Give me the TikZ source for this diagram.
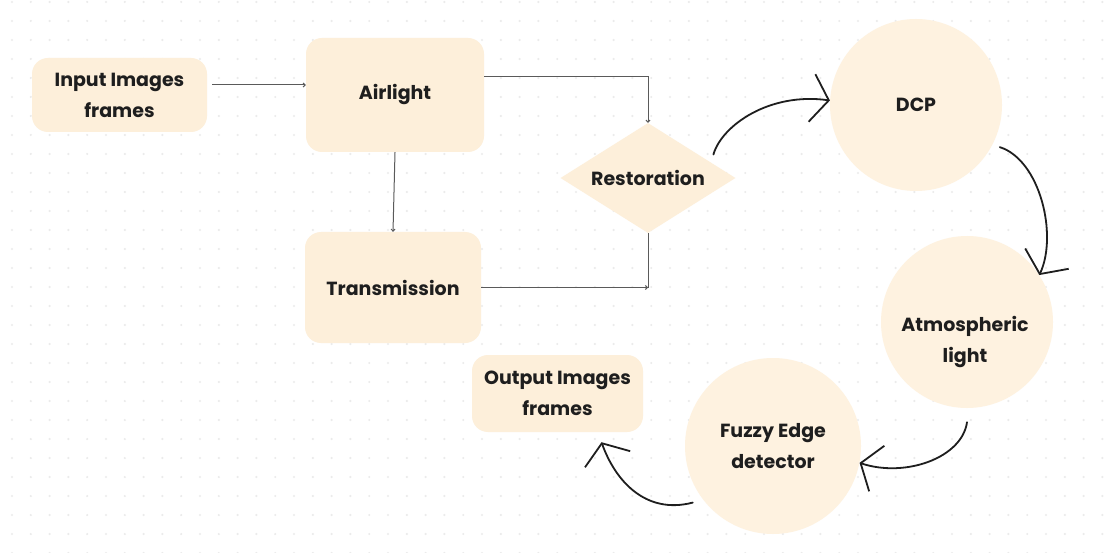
\documentclass[tikz,border=0pt]{standalone}
\usepackage{fontspec}
\setmainfont{Poppins}
\usetikzlibrary{arrows.meta,shapes.geometric}
\definecolor{peach}{HTML}{FDEFDA}
\definecolor{peachc}{HTML}{FEF2E0}
\definecolor{ink}{HTML}{1E1E1E}
\definecolor{wirec}{HTML}{5A5A5A}
\definecolor{dotc}{HTML}{EBEBEB}

\begin{document}
\begin{tikzpicture}[x=1pt,y=-1pt,
  lbl/.style={align=center, text=ink, font=\bfseries\fontsize{19}{31}\selectfont},
  box/.style={lbl, fill=peach, rounded corners=16pt, inner sep=0pt},
  disc/.style={lbl, circle, fill=peachc, inner sep=0pt, minimum size=172pt},
  gate/.style={lbl, diamond, aspect=1.6, fill=peach, inner sep=0pt,
               minimum width=175pt, minimum height=110pt},
  wire/.style={draw=wirec, line width=1pt,
               -{Straight Barb[length=2pt,width=4pt]}},
  plainwire/.style={draw=wirec, line width=1pt},
  sweep/.style={draw=ink, line width=1.8pt, line cap=round,
                -{Straight Barb[length=17pt,width=48pt]}}
]
% canvas and dotted grid
\useasboundingbox (0,0) rectangle (1118,553);
\fill[white] (0,0) rectangle (1118,553);
\foreach \i in {0,...,59}
  \foreach \j in {0,...,29}
    \fill[dotc] (12+18.8*\i, 2+19*\j) circle (1.2pt);

% left-hand pipeline
\node[box, minimum width=175pt, minimum height=74pt]  (inp)   at (119.5,95)  {Input Images\\frames};
\node[box, minimum width=178pt, minimum height=114pt] (air)   at (395,95)    {Airlight};
\node[box, minimum width=176pt, minimum height=111pt] (trans) at (393,287.5) {Transmission};
\node[gate] (rest) at (648,178) {Restoration};

% circular stages
\node[disc] (dcp)   at (916,105) {DCP};
\node[disc] (atm)   at (967,322) {};
\node[lbl]  (atmtx) at (965,342) {Atmospheric\\light};
\node[disc, minimum size=176pt] (fuzzy) at (773,446) {Fuzzy Edge\\detector};
\node[box, minimum width=171pt, minimum height=77pt] (out) at (557.5,393.5) {Output Images\\frames};

% straight connectors
\draw[wire] ([xshift=5pt,yshift=10pt]inp.east) -- ([yshift=10pt]air.west);
\draw[wire] (air.south) -- (trans.north);
\draw[wire] ([yshift=18pt]air.east) -| (rest.north);
\draw[wire] (trans.east) -- (trans.east -| rest.south);
\draw[plainwire] (rest.south) -- (trans.east -| rest.south);

% curved hand-drawn arrows
\draw[sweep] ([xshift=15pt]rest.25) .. controls (722,125) and (770,92) .. (dcp.177);
\draw[sweep] ([xshift=7pt,yshift=-3pt]dcp.-27) .. controls (1040,160) and (1058,235) .. (atm.33);
\draw[sweep] ([yshift=-14pt]atm.south) .. controls (962,458) and (905,478) .. (fuzzy.-11);
\draw[sweep] ([shift={(-8pt,-6pt)}]fuzzy.215) .. controls (645,515) and (615,480) .. ([xshift=44pt,yshift=-10pt]out.south);
\end{tikzpicture}
\end{document}
